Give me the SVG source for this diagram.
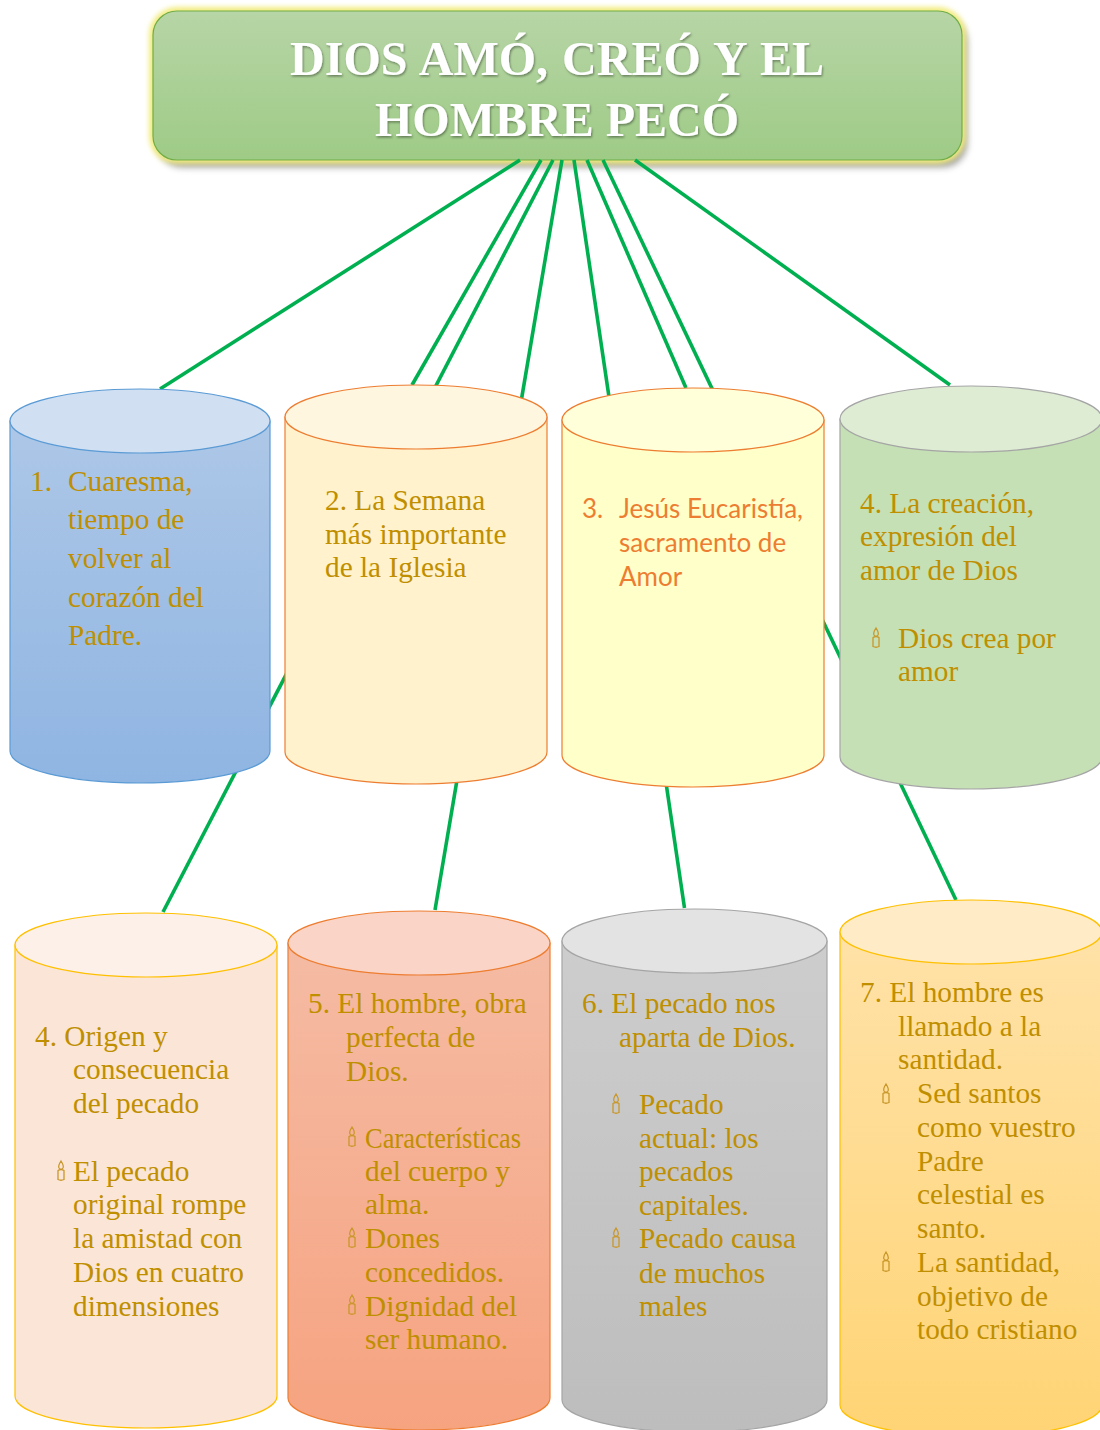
<svg xmlns="http://www.w3.org/2000/svg" xmlns:xlink="http://www.w3.org/1999/xlink" width="1100" height="1430" viewBox="0 0 1100 1430">
<style>
.t{font-family:"Liberation Serif",serif;font-size:29.3px;fill:#bf8f00}
.c{stroke-width:1.2}
.top{stroke-width:1.2}
.k line{stroke:#00b050;stroke-width:3.6;fill:none}
.cd{fill:none;stroke:#c9972a;stroke-width:1.300}
</style>
<defs>
<linearGradient id="gr" x1="0" y1="0" x2="0" y2="1"><stop offset="0" stop-color="#b7d5a6"/><stop offset="1" stop-color="#9ecb86"/></linearGradient>
<linearGradient id="g1" x1="0" y1="0" x2="0" y2="1"><stop offset="0" stop-color="#adc7e7"/><stop offset="1" stop-color="#8fb5e2"/></linearGradient>
<linearGradient id="g5" x1="0" y1="0" x2="0" y2="1"><stop offset="0" stop-color="#f5bba4"/><stop offset="1" stop-color="#f6a380"/></linearGradient>
<linearGradient id="g6" x1="0" y1="0" x2="0" y2="1"><stop offset="0" stop-color="#cdcdcd"/><stop offset="1" stop-color="#bdbdbd"/></linearGradient>
<linearGradient id="g7" x1="0" y1="0" x2="0" y2="1"><stop offset="0" stop-color="#ffe2a8"/><stop offset="1" stop-color="#ffd475"/></linearGradient>
<filter id="glow" x="-5%" y="-20%" width="110%" height="140%"><feGaussianBlur stdDeviation="2.500"/></filter>
<filter id="sh" x="-5%" y="-20%" width="110%" height="140%"><feGaussianBlur stdDeviation="3.500"/></filter>
<filter id="ts" x="-5%" y="-20%" width="110%" height="140%"><feDropShadow dx="1" dy="1.500" stdDeviation="1" flood-color="#000" flood-opacity="0.4"/></filter>
<symbol id="candle" viewBox="0 0 10 22" overflow="visible">
<path class="cd" d="M5 1 C3 4 2 6 3 8 C4 9.500 6 9.500 7 8 C8 6 7 4 5 1Z M2 10.500 Q5 8.500 8 10.500 V19.500 Q5 21 2 19.500Z"/>
</symbol>
</defs>
<g id="root">
<rect x="153" y="11" width="809" height="149" rx="24" fill="#6f6f6f" opacity="0.7" filter="url(#sh)" transform="translate(5 7)"/>
<rect x="149" y="7" width="817" height="157" rx="28" fill="#f2ec80" filter="url(#glow)"/>
<rect x="153" y="11" width="809" height="149" rx="24" fill="url(#gr)" stroke="#70ad47" stroke-width="1.200"/>
<g filter="url(#ts)" style="font-family:'Liberation Serif',serif;font-size:48px;font-weight:bold;fill:#fff" text-anchor="middle">
<text x="557" y="75" word-spacing="2">DIOS AMÓ, CREÓ Y EL</text>
<text x="557" y="136">HOMBRE PECÓ</text>
</g>
</g>
<g id="connectors" class="k">
<line x1="520" y1="160" x2="160" y2="389"/>
<line x1="541" y1="160" x2="412" y2="385"/>
<line x1="553" y1="160" x2="163" y2="912"/>
<line x1="562" y1="160" x2="435" y2="910"/>
<line x1="574" y1="160" x2="684.500" y2="908"/>
<line x1="587" y1="160" x2="686" y2="388"/>
<line x1="603" y1="160" x2="956" y2="900"/>
<line x1="635" y1="160" x2="950" y2="385"/>
</g>
<g id="n1">
<path d="M10 421 V751 A130 32 0 0 0 270 751 V421Z" fill="url(#g1)" stroke="#5b9bd5" class="c"/>
<ellipse cx="140" cy="421" rx="130" ry="32" fill="#d0dff1" stroke="#5b9bd5" class="top"/>
<g class="t"><text x="30" y="491">1.</text><text x="68" y="491">Cuaresma,</text><text x="68" y="529">tiempo de</text><text x="68" y="568">volver al</text><text x="68" y="607">corazón del</text><text x="68" y="645">Padre.</text></g>
</g>
<g id="n2">
<path d="M285 417 V752 A131 32 0 0 0 547 752 V417Z" fill="#fff2cc" stroke="#ed7d31" class="c"/>
<ellipse cx="416" cy="417" rx="131" ry="32" fill="#fff6e0" stroke="#ed7d31" class="top"/>
<g class="t"><text x="325" y="510">2. La Semana</text><text x="325" y="544">más importante</text><text x="325" y="577">de la Iglesia</text></g>
</g>
<g id="n3">
<path d="M562 420 V755 A131 32 0 0 0 824 755 V420Z" fill="#ffffc9" stroke="#ed7d31" class="c"/>
<ellipse cx="693" cy="420" rx="131" ry="32" fill="#ffffd9" stroke="#ed7d31" class="top"/>
<g style="font-family:Lato,'Open Sans',sans-serif;font-size:26px;fill:#ed7d31"><text x="582" y="518">3.</text><text x="619" y="518">Jesús Eucaristía,</text><text x="619" y="552">sacramento de</text><text x="619" y="586">Amor</text></g>
</g>
<g id="n4">
<path d="M840 419 V757 A131 32 0 0 0 1102 757 V419Z" fill="#c5e0b4" stroke="#a5a5a5" class="c"/>
<ellipse cx="971" cy="419" rx="131" ry="33" fill="#deecd4" stroke="#a5a5a5" class="top"/>
<g class="t"><text x="860" y="513">4. La creación,</text><text x="860" y="546">expresión del</text><text x="860" y="580">amor de Dios</text><text x="898" y="648">Dios crea por</text><text x="898" y="681">amor</text></g>
<use href="#candle" x="871" y="627" width="10" height="22"/>
</g>
<g id="n5">
<path d="M15 945 V1396 A131 32 0 0 0 277 1396 V945Z" fill="#fbe5d6" stroke="#ffc000" class="c"/>
<ellipse cx="146" cy="945" rx="131" ry="32" fill="#fdf0e8" stroke="#ffc000" class="top"/>
<g class="t"><text x="35" y="1046">4. Origen y</text><text x="73" y="1079">consecuencia</text><text x="73" y="1113">del pecado</text><text x="73" y="1181">El pecado</text><text x="73" y="1214">original rompe</text><text x="73" y="1248">la amistad con</text><text x="73" y="1282">Dios en cuatro</text><text x="73" y="1316">dimensiones</text></g>
<use href="#candle" x="56" y="1160" width="10" height="22"/>
</g>
<g id="n6">
<path d="M288 943 V1398 A131 32 0 0 0 550 1398 V943Z" fill="url(#g5)" stroke="#ed7d31" class="c"/>
<ellipse cx="419" cy="943" rx="131" ry="32" fill="#fad5c7" stroke="#ed7d31" class="top"/>
<g class="t"><text x="308" y="1013">5. El hombre, obra</text><text x="346" y="1047">perfecta de</text><text x="346" y="1081">Dios.</text><text x="365" y="1148" textLength="156" lengthAdjust="spacingAndGlyphs">Características</text><text x="365" y="1181">del cuerpo y</text><text x="365" y="1214">alma.</text><text x="365" y="1248">Dones</text><text x="365" y="1282">concedidos.</text><text x="365" y="1316">Dignidad del</text><text x="365" y="1349">ser humano.</text></g>
<use href="#candle" x="347" y="1126" width="10" height="22"/><use href="#candle" x="347" y="1227" width="10" height="22"/><use href="#candle" x="347" y="1294" width="10" height="22"/>
</g>
<g id="n7">
<path d="M562 941 V1400 A132.500 32 0 0 0 827 1400 V941Z" fill="url(#g6)" stroke="#a5a5a5" class="c"/>
<ellipse cx="694.500" cy="941" rx="132.500" ry="32" fill="#e3e3e3" stroke="#a5a5a5" class="top"/>
<g class="t"><text x="582" y="1013">6. El pecado nos</text><text x="619" y="1047">aparta de Dios.</text><text x="639" y="1114">Pecado</text><text x="639" y="1148">actual: los</text><text x="639" y="1181">pecados</text><text x="639" y="1215">capitales.</text><text x="639" y="1248">Pecado causa</text><text x="639" y="1283">de muchos</text><text x="639" y="1316">males</text></g>
<use href="#candle" x="611" y="1093" width="10" height="22"/><use href="#candle" x="611" y="1227" width="10" height="22"/>
</g>
<g id="n8">
<path d="M840 932 V1405 A131 32 0 0 0 1102 1405 V932Z" fill="url(#g7)" stroke="#ffc000" class="c"/>
<ellipse cx="971" cy="932" rx="131" ry="32" fill="#ffebc5" stroke="#ffc000" class="top"/>
<g class="t"><text x="860" y="1002">7. El hombre es</text><text x="898" y="1036">llamado a la</text><text x="898" y="1069">santidad.</text><text x="917" y="1103">Sed santos</text><text x="917" y="1137">como vuestro</text><text x="917" y="1171">Padre</text><text x="917" y="1204">celestial es</text><text x="917" y="1238">santo.</text><text x="917" y="1272">La santidad,</text><text x="917" y="1306">objetivo de</text><text x="917" y="1339">todo cristiano</text></g>
<use href="#candle" x="881" y="1083" width="10" height="22"/><use href="#candle" x="881" y="1251" width="10" height="22"/>
</g>
</svg>
